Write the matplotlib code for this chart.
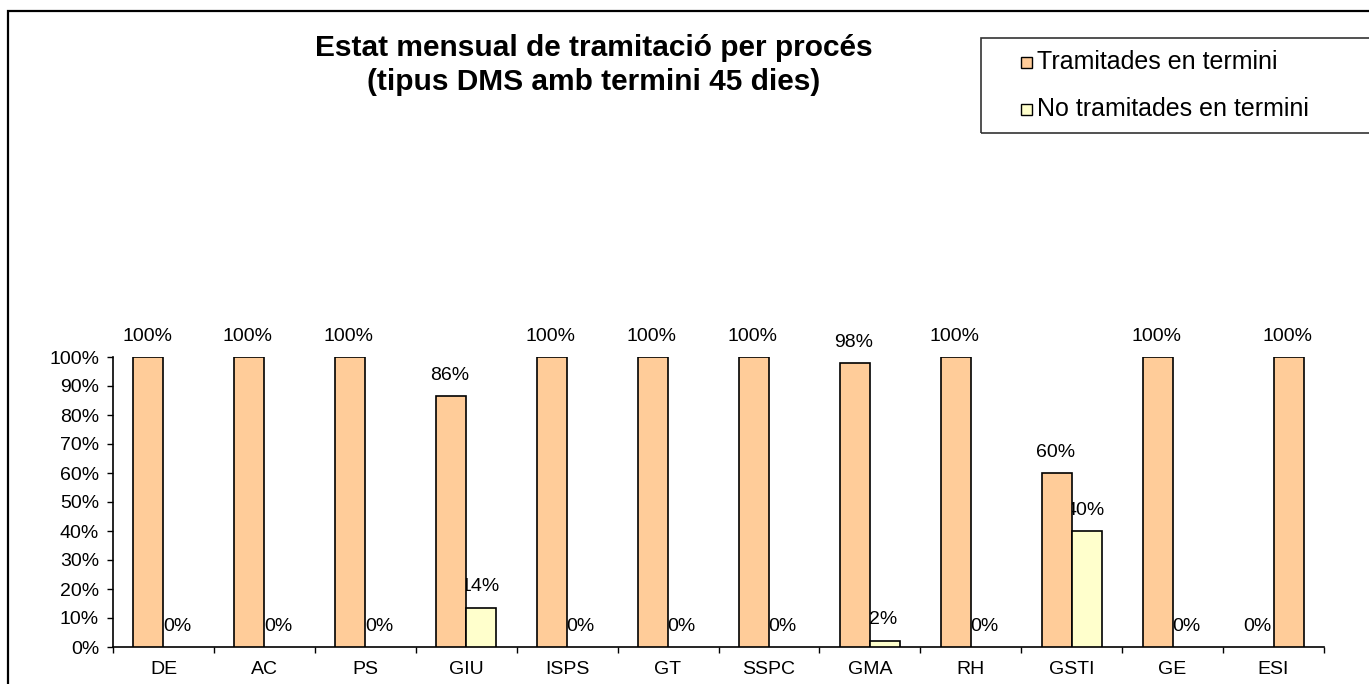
import matplotlib
matplotlib.use("Agg")
import matplotlib.pyplot as plt
import matplotlib.patches as mpatches
import numpy as np

# ── Dades ─────────────────────────────────────────────────────────────
processos = ["DE", "AC", "PS", "GIU", "ISPS", "GT", "SSPC", "GMA", "RH", "GSTI", "GE", "ESI"]
tramitades = [1.00, 1.00, 1.00, 0.864, 1.00, 1.00, 1.00, 0.978, 1.00, 0.60, 1.00, 0.00]
no_tramitades = [0.00, 0.00, 0.00, 0.136, 0.00, 0.00, 0.00, 0.022, 0.00, 0.40, 0.00, 1.00]
series_labels = ["Tramitades en termini", "No tramitades en termini"]
titol = "Estat mensual de tramitació per procés\n(tipus DMS amb termini 45 dies)"

# ── Estil ─────────────────────────────────────────────────────────────
C_TRAM = "#FFCC99"
C_NO = "#FFFFCC"
# a l'original, el punt ESI de la segona sèrie té format taronja
no_colors = [C_NO] * len(processos)
no_colors[-1] = C_TRAM

plt.rcParams["font.family"] = ["Liberation Sans", "DejaVu Sans"]

W, H = 1369, 684

def fx(px):
    return px / W

def fy(py):
    return 1 - py / H

fig = plt.figure(figsize=(W / 100, H / 100), dpi=100)
fig.patch.set_facecolor("white")

# marc exterior del gràfic
fig.patches.append(mpatches.Rectangle(
    (fx(8), fy(700)), fx(1380 - 8), (700 - 11) / H,
    fill=False, edgecolor="black", lw=1.6,
    transform=fig.transFigure, clip_on=False))

ax = fig.add_axes([fx(113), fy(647), fx(1324 - 113), (647 - 357) / H])

x = np.arange(len(processos))
w = 0.297
b1 = ax.bar(x - w / 2, tramitades, w, color=C_TRAM, edgecolor="black", lw=1.2, zorder=3)
b2 = ax.bar(x + w / 2, no_tramitades, w, color=no_colors, edgecolor="black", lw=1.2, zorder=3)

for bars, vals in ((b1, tramitades), (b2, no_tramitades)):
    for rect, v in zip(bars, vals):
        if v == 0:
            rect.set_linewidth(0)
        cx = rect.get_x() + rect.get_width() / 2
        ax.annotate(f"{v * 100:.0f}%", xy=(cx, v), xytext=(-1, 15),
                    textcoords="offset points", ha="center", va="center",
                    fontsize=14, zorder=2, annotation_clip=False)

ax.set_xlim(-0.5, len(processos) - 0.5)
ax.set_ylim(0, 1)
yt = np.arange(0, 1.01, 0.1)
ax.set_yticks(yt)
ax.set_yticklabels([f"{round(t * 100)}%" for t in yt], fontsize=14)
ax.tick_params(axis="y", length=4, direction="out", pad=6, width=1)

ax.set_xticks(x)
ax.set_xticklabels(processos, fontsize=14)
ax.set_xticks(np.arange(-0.5, len(processos), 1), minor=True)
ax.tick_params(axis="x", which="major", length=0, pad=10)
ax.tick_params(axis="x", which="minor", length=4, direction="out", width=1)

for s in ("top", "right"):
    ax.spines[s].set_visible(False)
for s in ("left", "bottom"):
    ax.spines[s].set_linewidth(1.2)

# ── Títol ─────────────────────────────────────────────────────────────
fig.text(fx(594), fy(65), titol, ha="center", va="center",
         fontsize=21.5, fontweight="bold", linespacing=1.25)

# ── Llegenda ──────────────────────────────────────────────────────────
fig.patches.append(mpatches.Rectangle(
    (fx(981), fy(133)), fx(1380 - 981), (133 - 38) / H,
    fill=False, edgecolor="#333333", lw=1.2,
    transform=fig.transFigure, clip_on=False))
for yc, col, lab in ((62, C_TRAM, series_labels[0]), (109, C_NO, series_labels[1])):
    fig.patches.append(mpatches.Rectangle(
        (fx(1021), fy(yc + 6)), fx(11), 11 / H,
        facecolor=col, edgecolor="black", lw=1,
        transform=fig.transFigure))
    fig.text(fx(1037), fy(yc), lab, ha="left", va="center", fontsize=18)

fig.savefig("out.png", dpi=100, facecolor="white")
